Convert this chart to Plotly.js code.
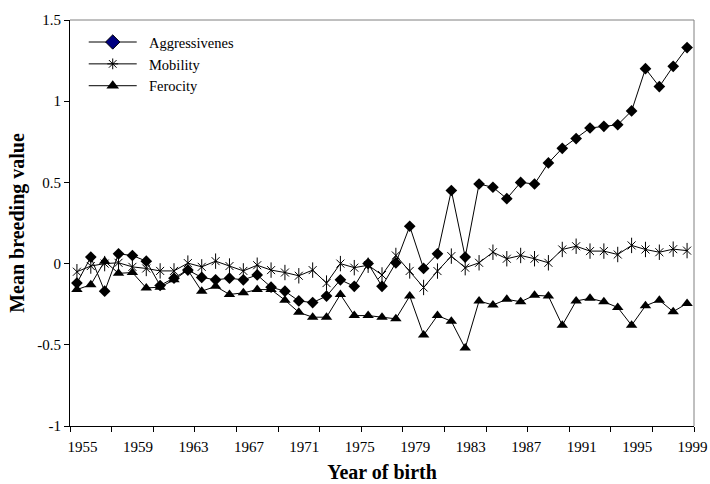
<!DOCTYPE html>
<html>
<head>
<meta charset="utf-8">
<script src="https://cdn.plot.ly/plotly-3.0.1.min.js"></script>
<style>html,body{margin:0;padding:0;background:#fff;}#chart{width:710px;height:484px;}</style>
</head>
<body>
<div id="chart"></div>
<script>
var years = [];
for (var yr = 1955; yr <= 1999; yr++) years.push(yr);

var aggressiveness = [-0.12, 0.04, -0.17, 0.06, 0.05, 0.015, -0.135, -0.09, -0.04, -0.085,
  -0.10, -0.09, -0.10, -0.07, -0.145, -0.17, -0.23, -0.24, -0.20, -0.10,
  -0.14, 0.00, -0.14, 0.005, 0.23, -0.03, 0.06, 0.45, 0.04, 0.49,
  0.47, 0.40, 0.50, 0.49, 0.62, 0.71, 0.77, 0.835, 0.845, 0.855,
  0.94, 1.20, 1.09, 1.215, 1.33];

var mobility = [-0.05, -0.015, 0.0, 0.005, -0.02, -0.03, -0.045, -0.045, 0.003, -0.02,
  0.015, -0.015, -0.045, -0.01, -0.04, -0.055, -0.075, -0.04, -0.12, 0.0,
  -0.025, -0.01, -0.07, 0.05, -0.045, -0.147, -0.046, 0.046, -0.025, 0.005,
  0.07, 0.03, 0.05, 0.03, 0.005, 0.087, 0.107, 0.077, 0.077, 0.056,
  0.112, 0.087, 0.07, 0.089, 0.08];

var ferocity = [-0.16, -0.13, 0.015, -0.06, -0.055, -0.15, -0.145, -0.10, -0.04, -0.17,
  -0.14, -0.19, -0.18, -0.16, -0.16, -0.225, -0.30, -0.33, -0.33, -0.19,
  -0.32, -0.32, -0.33, -0.34, -0.20, -0.44, -0.32, -0.355, -0.52, -0.23,
  -0.255, -0.22, -0.235, -0.195, -0.20, -0.38, -0.23, -0.214, -0.235, -0.27,
  -0.38, -0.26, -0.225, -0.296, -0.245];

var seriesNames = ["Aggressivenes", "Mobility", "Ferocity"];
var xTickLabels = ["1955","1959","1963","1967","1971","1975","1979","1983","1987","1991","1995","1999"];
var yTickVals = [-1, -0.5, 0, 0.5, 1, 1.5];
var yTickText = ["-1", "-0.5", "0", "0.5", "1", "1.5"];
</script>
<script>
var font = "Liberation Serif";
var labelOffset = 0.4; // labels sit slightly right of category centres, as in the original
var xLabelVals = xTickLabels.map(function (s) { return Number(s) + labelOffset; });
var pad = "\u00a0\u00a0";
var traces = [
  {x: years, y: aggressiveness, mode: "lines+markers", name: seriesNames[0], showlegend: false,
   line: {color: "#000", width: 1}, marker: {symbol: "diamond", size: 9, color: "#000"}},
  {x: years, y: mobility, mode: "lines+markers", name: seriesNames[1], showlegend: false,
   line: {color: "#000", width: 1}, marker: {symbol: "x-thin-open", size: 8, color: "#000", line: {color: "#000", width: 1}}},
  {x: years, y: mobility, mode: "markers", name: seriesNames[1], showlegend: false,
   marker: {symbol: "line-ns-open", size: 11, color: "#000", line: {color: "#000", width: 1}}},
  {x: years, y: ferocity, mode: "lines+markers", name: seriesNames[2], showlegend: false,
   line: {color: "#000", width: 1}, marker: {symbol: "triangle-up", size: 10, color: "#000"}},
  {x: [null], y: [null], mode: "lines+markers", name: pad + seriesNames[0],
   line: {color: "#000", width: 1}, marker: {symbol: "diamond", size: 11, color: "#000080", line: {color: "#000", width: 1}}},
  {x: [null], y: [null], mode: "lines+markers", name: pad + seriesNames[1],
   line: {color: "#000", width: 1}, marker: {symbol: "asterisk-open", size: 9, color: "#000", line: {color: "#000", width: 1}}},
  {x: [null], y: [null], mode: "lines+markers", name: pad + seriesNames[2],
   line: {color: "#000", width: 1}, marker: {symbol: "triangle-up", size: 11, color: "#000"}}
];

var layout = {
  width: 710, height: 484,
  margin: {l: 70, r: 16, t: 20, b: 58, pad: 0},
  paper_bgcolor: "#fff", plot_bgcolor: "#fff",
  font: {family: font, size: 15, color: "#000"},
  showlegend: true,
  legend: {x: 0.022, y: 0.985, xanchor: "left", yanchor: "top", bgcolor: "rgba(0,0,0,0)",
           font: {family: font, size: 14.5, color: "#000"}, itemwidth: 48, tracegroupgap: 0},
  xaxis: {
    range: [years[0] - 0.5, years[years.length - 1] + 0.5],
    tickmode: "array", tickvals: xLabelVals, ticktext: xTickLabels,
    ticks: "", ticklabelstandoff: 7,
    showline: true, linecolor: "#000", linewidth: 1, showgrid: false, zeroline: false,
    minor: {tick0: years[0] - 0.5, dtick: 3, ticks: "outside", ticklen: 5, tickcolor: "#000", tickwidth: 1, showgrid: false},
    tickfont: {family: font, size: 15, color: "#000"},
    title: {text: "<b>Year of birth</b>", font: {family: font, size: 20, color: "#000"}, standoff: 10}
  },
  yaxis: {
    range: [-1, 1.5], tickmode: "array", tickvals: yTickVals, ticktext: yTickText,
    ticks: "outside", ticklen: 5, tickcolor: "#000", tickwidth: 1,
    showline: true, linecolor: "#000", linewidth: 1, showgrid: false, zeroline: false,
    tickfont: {family: font, size: 15, color: "#000"},
    title: {text: "<b>Mean breeding value</b>", font: {family: font, size: 20, color: "#000"}, standoff: 7}
  },
  shapes: [
    {type: "line", xref: "paper", yref: "paper", x0: 0, x1: 1, y0: 1, y1: 1, line: {color: "#808080", width: 1}},
    {type: "line", xref: "paper", yref: "paper", x0: 1, x1: 1, y0: 0, y1: 1, line: {color: "#808080", width: 1}}
  ]
};

Plotly.newPlot("chart", traces, layout, {displayModeBar: false, staticPlot: true});
</script>
</body>
</html>
